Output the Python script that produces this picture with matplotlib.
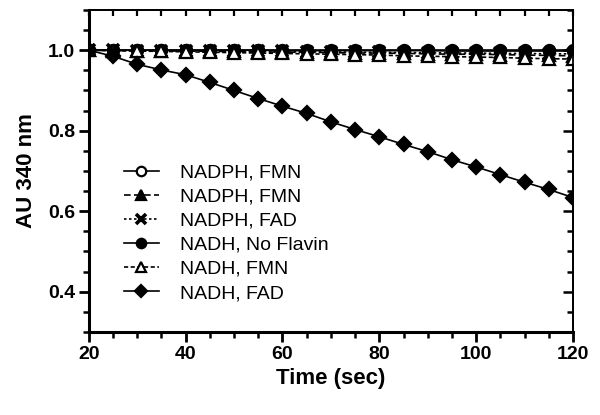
import matplotlib

matplotlib.use("Agg")
import matplotlib.pyplot as plt  # noqa: E402
from matplotlib.ticker import MultipleLocator  # noqa: E402

# --- Data ------------------------------------------------------------
TIME = [20, 25, 30, 35, 40, 45, 50, 55, 60, 65, 70,
        75, 80, 85, 90, 95, 100, 105, 110, 115, 120]

NADPH_FMN_A = [1.000, 1.000, 1.000, 1.000, 1.000, 1.000, 1.000, 1.000, 0.999, 0.999, 0.999,
               0.999, 0.999, 0.999, 0.999, 0.998, 0.998, 0.998, 0.998, 0.998, 0.998]
NADPH_FMN_B = [1.000, 0.999, 0.999, 0.998, 0.998, 0.997, 0.997, 0.996, 0.995, 0.995, 0.994,
               0.993, 0.993, 0.992, 0.991, 0.990, 0.990, 0.989, 0.988, 0.987, 0.986]
NADPH_FAD = [1.000, 1.000, 0.999, 0.999, 0.999, 0.998, 0.998, 0.997, 0.997, 0.996, 0.996,
             0.995, 0.995, 0.994, 0.994, 0.993, 0.993, 0.992, 0.992, 0.991, 0.991]
NADH_NONE = [1.000, 1.000, 1.000, 1.000, 1.000, 1.000, 1.000, 1.000, 1.000, 1.000, 1.000,
             1.000, 1.000, 1.000, 1.000, 1.000, 1.000, 1.000, 1.000, 1.000, 1.000]
NADH_FMN = [1.000, 0.999, 0.998, 0.997, 0.996, 0.995, 0.994, 0.993, 0.992, 0.991, 0.990,
            0.989, 0.988, 0.986, 0.985, 0.984, 0.983, 0.982, 0.980, 0.979, 0.978]
NADH_FAD = [1.000, 0.985, 0.965, 0.951, 0.939, 0.920, 0.900, 0.880, 0.861, 0.843, 0.822,
            0.803, 0.785, 0.766, 0.748, 0.728, 0.710, 0.691, 0.672, 0.654, 0.634]

LABELS = ["NADPH, FMN", "NADPH, FMN", "NADPH, FAD",
          "NADH, No Flavin", "NADH, FMN", "NADH, FAD"]

plt.rcParams["font.family"] = ["Liberation Sans", "DejaVu Sans"]

fig = plt.figure(figsize=(6.0, 4.15), dpi=100)
ax = fig.add_axes([0.148, 0.2, 0.807, 0.776])

common = dict(color="black", linewidth=1.2, markersize=8,
              markeredgewidth=1.6, markeredgecolor="black")

ax.plot(TIME, NADPH_FMN_A, linestyle="-", marker="o",
        markerfacecolor="white", label=LABELS[0], **common)
ax.plot(TIME, NADPH_FMN_B, linestyle=(0, (4, 2)), marker="^",
        markerfacecolor="black", label=LABELS[1], **common)
ax.plot(TIME, NADPH_FAD, linestyle=(0, (1.5, 1.5)), marker="x",
        label=LABELS[2], **{**common, "markeredgewidth": 2.6})
ax.plot(TIME, NADH_NONE, linestyle="-", marker="o",
        markerfacecolor="black", label=LABELS[3], **common)
ax.plot(TIME, NADH_FMN, linestyle=(0, (2.5, 1.5)), marker="^",
        markerfacecolor="white", label=LABELS[4], **common)
ax.plot(TIME, NADH_FAD, linestyle="-", marker="D",
        markerfacecolor="black", label=LABELS[5],
        **{**common, "markersize": 7})

ax.set_xlim(20, 120)
ax.set_ylim(0.3, 1.1)
ax.xaxis.set_major_locator(MultipleLocator(20))
ax.xaxis.set_minor_locator(MultipleLocator(5))
ax.yaxis.set_major_locator(MultipleLocator(0.2))
ax.yaxis.set_minor_locator(MultipleLocator(0.05))
ax.set_yticks([0.4, 0.6, 0.8, 1.0])

for side in ("left", "bottom"):
    ax.spines[side].set_linewidth(2.2)
for side in ("top", "right"):
    ax.spines[side].set_linewidth(1.3)

ax.tick_params(which="major", direction="out", length=7, width=2.0,
               labelsize=14, pad=3)
ax.tick_params(which="minor", direction="out", length=4, width=1.8)
for lab in ax.get_xticklabels() + ax.get_yticklabels():
    lab.set_fontweight("bold")

# inward ticks on the top and right frame
top = ax.secondary_xaxis("top")
top.xaxis.set_major_locator(MultipleLocator(5))
top.tick_params(direction="in", length=4, width=1.6, labeltop=False)
top.spines["top"].set_linewidth(1.3)
right = ax.secondary_yaxis("right")
right.yaxis.set_major_locator(MultipleLocator(0.2))
right.yaxis.set_minor_locator(MultipleLocator(0.05))
right.set_yticks([0.4, 0.6, 0.8, 1.0])
right.tick_params(which="major", direction="in", length=7, width=1.8, labelright=False)
right.tick_params(which="minor", direction="in", length=4, width=1.8)
right.spines["right"].set_linewidth(1.3)

ax.set_xlabel("Time (sec)", fontsize=16, fontweight="bold", labelpad=4)
ax.set_ylabel("AU 340 nm", fontsize=16, fontweight="bold", labelpad=8)

ax.legend(loc="upper left", bbox_to_anchor=(0.056, 0.545), frameon=False,
          fontsize=14, handlelength=1.8, handletextpad=1.1,
          labelspacing=0.33, borderaxespad=0, markerscale=0.85)

fig.savefig("out.png", dpi=100)
plt.close(fig)
